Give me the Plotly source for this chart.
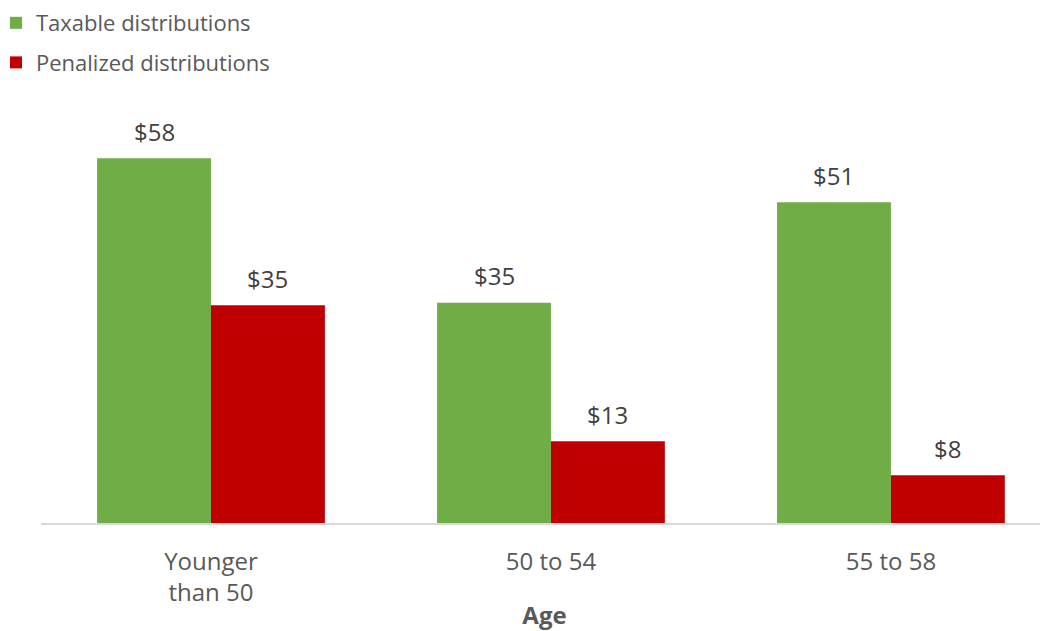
import plotly.graph_objects as go

categories = ["Younger<br>than 50", "50 to 54", "55 to 58"]
taxable = [58, 35, 51]
penalized = [34.6, 13, 7.6]
series_names = ["Taxable distributions", "Penalized distributions"]
colors = ["#70AD47", "#C00000"]

FONT = "Open Sans"
# page body adds an 8px offset, so the figure is 8px smaller and margins shifted
L, R, T, B = 33, 0, 92, 108
W, H = 1040, 623
x_range = [-0.5, 2.462]
y_range = [0, 67.25]
bargap = 0.33
plot_w = W - L - R
plot_h = H - T - B

fig = go.Figure()
for i, (name, vals) in enumerate(zip(series_names, [taxable, penalized])):
    fig.add_trace(go.Bar(
        x=categories, y=vals, name=name, marker_color=colors[i],
        marker_line_width=0, legendgroup=f"g{i}",
    ))

px_per_cat = plot_w / (x_range[1] - x_range[0])
bar_w = px_per_cat * (1 - bargap) / 2
for i, vals in enumerate([taxable, penalized]):
    for c, v in zip(categories, vals):
        fig.add_annotation(
            x=c, y=v, xref="x", yref="y", text=f"${v:.0f}", showarrow=False,
            xshift=(i - 0.5) * bar_w, yshift=27, yanchor="middle",
            font=dict(family=FONT, size=24, color="#404040"),
        )

fig.update_layout(
    width=W, height=H, margin=dict(l=L, r=R, t=T, b=B, autoexpand=False),
    barmode="group", bargap=bargap, bargroupgap=0,
    plot_bgcolor="white", paper_bgcolor="white",
    font=dict(family=FONT, color="#595959", size=22),
    legend=dict(x=(-12 - L) / plot_w, y=1 + (T + 6) / plot_h, xref="paper", yref="paper",
                xanchor="left", yanchor="top", bgcolor="rgba(0,0,0,0)",
                orientation="v", tracegroupgap=8, font=dict(size=22, color="#595959"),
                itemwidth=30),
    showlegend=True,
    xaxis=dict(range=x_range, showline=True, linecolor="#D9D9D9", linewidth=2,
               ticks="", ticklabelstandoff=16, tickfont=dict(size=24, color="#595959"),
               title=dict(text="<b>Age</b>", font=dict(size=24, color="#595959"), standoff=4)),
    yaxis=dict(range=y_range, visible=False, showgrid=False, zeroline=False),
)
fig.write_html("out.html")
